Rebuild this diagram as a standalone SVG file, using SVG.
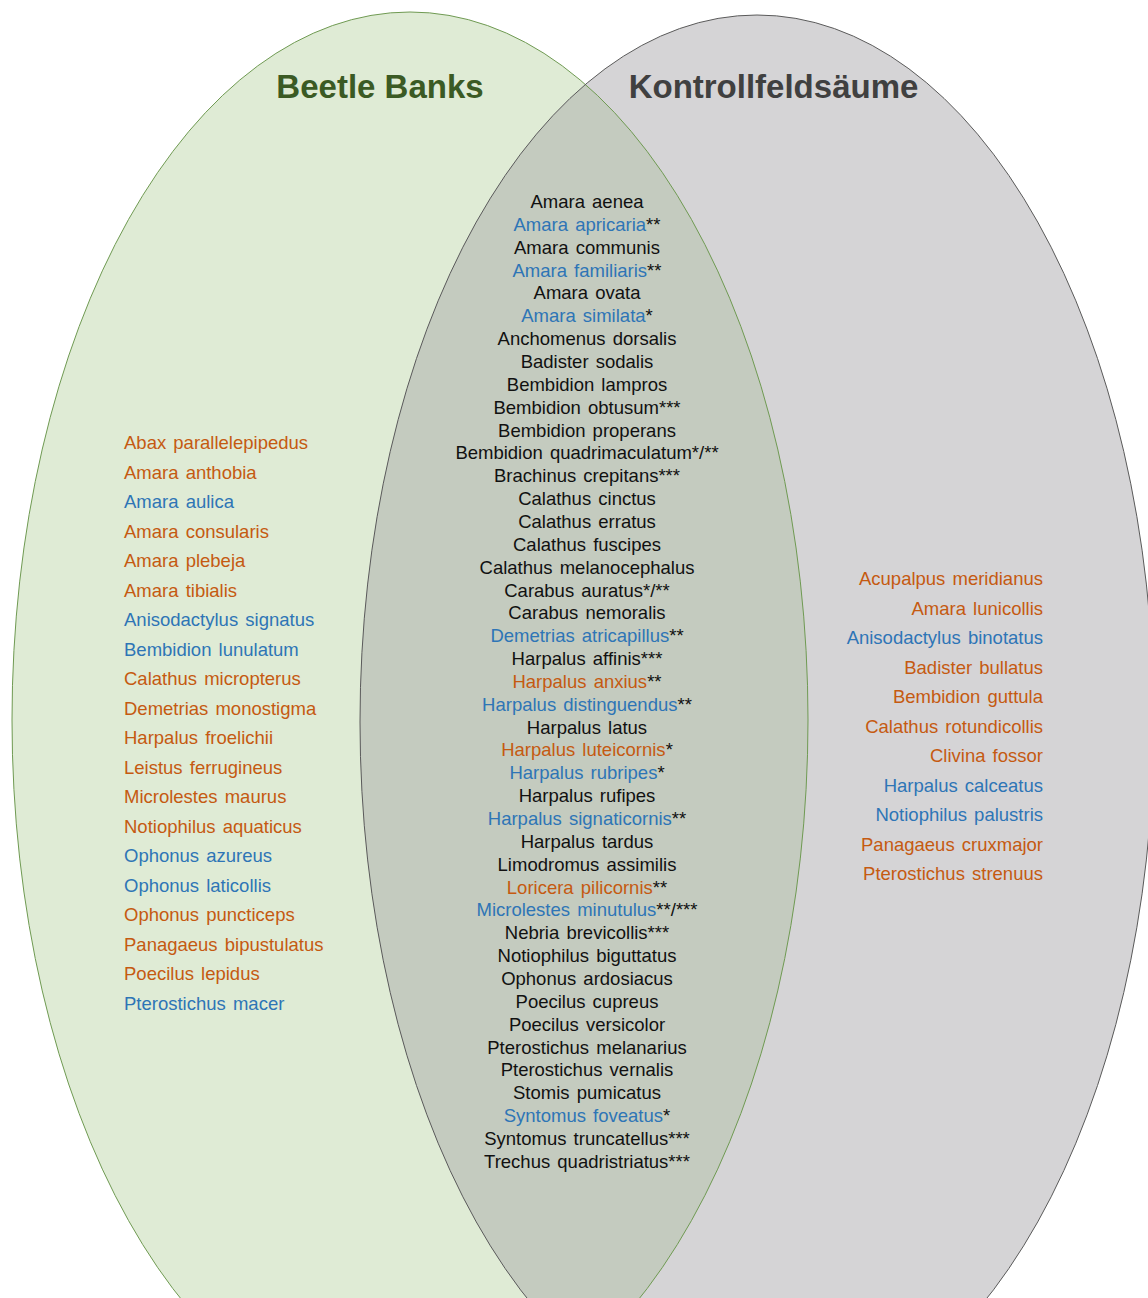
<svg xmlns="http://www.w3.org/2000/svg" width="1148" height="1298" viewBox="0 0 1148 1298">
<style>
text{font-family:"Liberation Sans",Arial,sans-serif;font-size:18.5px;word-spacing:2px;fill:#111}
.title{font-size:33px;font-weight:bold;word-spacing:0}
.o{fill:#c55a11}
.b{fill:#2e75b6}
.k{fill:#111}
.l{text-anchor:start}
.r{text-anchor:end}
.c{text-anchor:middle}
</style>
<defs>
<clipPath id="clipLeft"><ellipse cx="410" cy="720" rx="398" ry="708"/></clipPath>
</defs>
<rect width="1148" height="1298" fill="#ffffff"/>
<g id="set-beetle-banks">
<ellipse cx="410" cy="720" rx="398" ry="708" fill="#dfebd5"/>
</g>
<g id="set-kontrollfeldsaeume">
<ellipse cx="757" cy="722" rx="397" ry="707" fill="#d5d4d6"/>
</g>
<g id="set-intersection">
<ellipse cx="757" cy="722" rx="397" ry="707" fill="#c4cbbf" clip-path="url(#clipLeft)"/>
</g>
<g id="outlines" fill="none">
<ellipse cx="410" cy="720" rx="398" ry="708" stroke="#6f9a52" stroke-width="1"/>
<ellipse cx="757" cy="722" rx="397" ry="707" stroke="#5a5a5a" stroke-width="1"/>
</g>
<g id="connectors"/>
<g id="title-beetle-banks"><text class="title c" x="380" y="98" style="fill:#3b5a24">Beetle Banks</text></g>
<g id="title-kontroll"><text class="title c" x="773.5" y="98" style="fill:#404040">Kontrollfeldsäume</text></g>
<g id="list-beetle-banks">
<text class="l o" x="124" y="449">Abax parallelepipedus</text>
<text class="l o" x="124" y="478.5">Amara anthobia</text>
<text class="l b" x="124" y="508">Amara aulica</text>
<text class="l o" x="124" y="537.5">Amara consularis</text>
<text class="l o" x="124" y="567">Amara plebeja</text>
<text class="l o" x="124" y="596.5">Amara tibialis</text>
<text class="l b" x="124" y="626">Anisodactylus signatus</text>
<text class="l b" x="124" y="655.5">Bembidion lunulatum</text>
<text class="l o" x="124" y="685">Calathus micropterus</text>
<text class="l o" x="124" y="714.5">Demetrias monostigma</text>
<text class="l o" x="124" y="744">Harpalus froelichii</text>
<text class="l o" x="124" y="773.5">Leistus ferrugineus</text>
<text class="l o" x="124" y="803">Microlestes maurus</text>
<text class="l o" x="124" y="832.5">Notiophilus aquaticus</text>
<text class="l b" x="124" y="862">Ophonus azureus</text>
<text class="l b" x="124" y="891.5">Ophonus laticollis</text>
<text class="l o" x="124" y="921">Ophonus puncticeps</text>
<text class="l o" x="124" y="950.5">Panagaeus bipustulatus</text>
<text class="l o" x="124" y="980">Poecilus lepidus</text>
<text class="l b" x="124" y="1009.5">Pterostichus macer</text>
</g>
<g id="list-kontroll">
<text class="r o" x="1043" y="585">Acupalpus meridianus</text>
<text class="r o" x="1043" y="614.5">Amara lunicollis</text>
<text class="r b" x="1043" y="644">Anisodactylus binotatus</text>
<text class="r o" x="1043" y="673.5">Badister bullatus</text>
<text class="r o" x="1043" y="703">Bembidion guttula</text>
<text class="r o" x="1043" y="732.5">Calathus rotundicollis</text>
<text class="r o" x="1043" y="762">Clivina fossor</text>
<text class="r b" x="1043" y="791.5">Harpalus calceatus</text>
<text class="r b" x="1043" y="821">Notiophilus palustris</text>
<text class="r o" x="1043" y="850.5">Panagaeus cruxmajor</text>
<text class="r o" x="1043" y="880">Pterostichus strenuus</text>
</g>
<g id="list-both">
<text class="c" x="587" y="208">Amara aenea</text>
<text class="c" x="587" y="230.9"><tspan class="b">Amara apricaria</tspan>**</text>
<text class="c" x="587" y="253.7">Amara communis</text>
<text class="c" x="587" y="276.6"><tspan class="b">Amara familiaris</tspan>**</text>
<text class="c" x="587" y="299.4">Amara ovata</text>
<text class="c" x="587" y="322.3"><tspan class="b">Amara similata</tspan>*</text>
<text class="c" x="587" y="345.1">Anchomenus dorsalis</text>
<text class="c" x="587" y="368">Badister sodalis</text>
<text class="c" x="587" y="390.8">Bembidion lampros</text>
<text class="c" x="587" y="413.7">Bembidion obtusum***</text>
<text class="c" x="587" y="436.5">Bembidion properans</text>
<text class="c" x="587" y="459.4">Bembidion quadrimaculatum*/**</text>
<text class="c" x="587" y="482.2">Brachinus crepitans***</text>
<text class="c" x="587" y="505.1">Calathus cinctus</text>
<text class="c" x="587" y="527.9">Calathus erratus</text>
<text class="c" x="587" y="550.8">Calathus fuscipes</text>
<text class="c" x="587" y="573.6">Calathus melanocephalus</text>
<text class="c" x="587" y="596.5">Carabus auratus*/**</text>
<text class="c" x="587" y="619.3">Carabus nemoralis</text>
<text class="c" x="587" y="642.2"><tspan class="b">Demetrias atricapillus</tspan>**</text>
<text class="c" x="587" y="665">Harpalus affinis***</text>
<text class="c" x="587" y="687.9"><tspan class="o">Harpalus anxius</tspan>**</text>
<text class="c" x="587" y="710.7"><tspan class="b">Harpalus distinguendus</tspan>**</text>
<text class="c" x="587" y="733.6">Harpalus latus</text>
<text class="c" x="587" y="756.4"><tspan class="o">Harpalus luteicornis</tspan>*</text>
<text class="c" x="587" y="779.3"><tspan class="b">Harpalus rubripes</tspan>*</text>
<text class="c" x="587" y="802.1">Harpalus rufipes</text>
<text class="c" x="587" y="825"><tspan class="b">Harpalus signaticornis</tspan>**</text>
<text class="c" x="587" y="847.8">Harpalus tardus</text>
<text class="c" x="587" y="870.7">Limodromus assimilis</text>
<text class="c" x="587" y="893.5"><tspan class="o">Loricera pilicornis</tspan>**</text>
<text class="c" x="587" y="916.4"><tspan class="b">Microlestes minutulus</tspan>**/***</text>
<text class="c" x="587" y="939.2">Nebria brevicollis***</text>
<text class="c" x="587" y="962.1">Notiophilus biguttatus</text>
<text class="c" x="587" y="984.9">Ophonus ardosiacus</text>
<text class="c" x="587" y="1007.8">Poecilus cupreus</text>
<text class="c" x="587" y="1030.6">Poecilus versicolor</text>
<text class="c" x="587" y="1053.5">Pterostichus melanarius</text>
<text class="c" x="587" y="1076.3">Pterostichus vernalis</text>
<text class="c" x="587" y="1099.2">Stomis pumicatus</text>
<text class="c" x="587" y="1122"><tspan class="b">Syntomus foveatus</tspan>*</text>
<text class="c" x="587" y="1144.9">Syntomus truncatellus***</text>
<text class="c" x="587" y="1167.7">Trechus quadristriatus***</text>
</g>
</svg>
